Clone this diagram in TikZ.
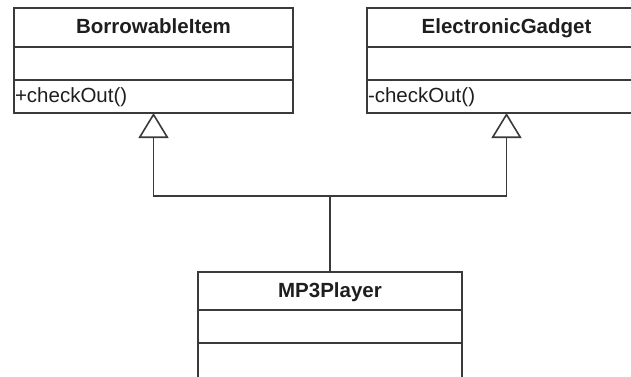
\documentclass[tikz,border=0pt]{standalone}
\usepackage{fontspec}
\setmainfont{Liberation Sans}
\usetikzlibrary{arrows.meta,positioning}
\definecolor{umlInk}{HTML}{3A3A3A}
\definecolor{umlText}{HTML}{1E1E1E}
\tikzset{
  classhead/.style={draw=umlInk, line width=1.6pt, inner sep=0pt, outer sep=0pt,
                    minimum height=39pt, anchor=north, text height=15pt, text depth=3pt,
                    font=\fontsize{20.5}{24}\selectfont\bfseries, text=umlText},
  classrow/.style={draw=umlInk, line width=1.6pt, inner xsep=1pt, inner ysep=0pt,
                   outer sep=0pt, minimum height=33pt, align=left,
                   text height=15pt, text depth=4pt,
                   font=\fontsize{20.5}{24}\selectfont, text=umlText},
  inherit/.style={-{Triangle[open, length=25pt, width=30pt]},
                  line width=1.6pt, color=umlInk},
}

\begin{document}
\begin{tikzpicture}[x=1pt, y=-1pt]
  \useasboundingbox (0,0) rectangle (631,376);
  \clip (0,0) rectangle (631,376);
  % parent classes
  \node[classhead, minimum width=279pt] (itemHead) at (153.5,8) {BorrowableItem};
  \node[classrow, text width=277pt, below=0pt of itemHead] (itemAttr) {};
  \node[classrow, text width=277pt, below=0pt of itemAttr] (itemOps) {+checkOut()};
  \node[classhead, minimum width=279pt] (gadgetHead) at (506.5,8) {ElectronicGadget};
  \node[classrow, text width=277pt, below=0pt of gadgetHead] (gadgetAttr) {};
  \node[classrow, text width=277pt, below=0pt of gadgetAttr] (gadgetOps) {-checkOut()};
  % child class
  \node[classhead, minimum width=264pt, minimum height=38pt] (mp3Head) at (330,272) {MP3Player};
  \node[classrow, text width=262pt, below=0pt of mp3Head] (mp3Attr) {};
  \node[classrow, text width=262pt, minimum height=35pt, below=0pt of mp3Attr] (mp3Ops) {};
  % generalization
  \coordinate (join) at (330,196);
  \draw[line width=1.6pt, color=umlInk] (mp3Head.north) -- (join);
  \draw[inherit] (join) -| (itemOps.south);
  \draw[inherit] (join) -| (gadgetOps.south);
\end{tikzpicture}
\end{document}
